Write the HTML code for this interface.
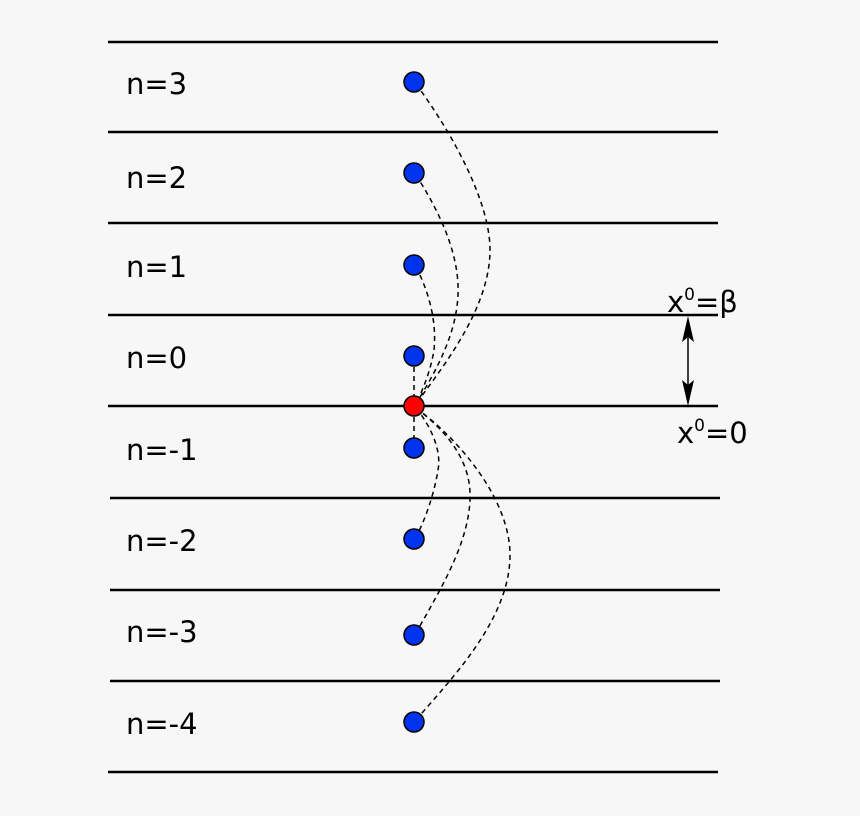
<!DOCTYPE html>
<html><head><style>body{margin:0;background:#f7f7f7}</style></head><body>
<svg width="860" height="816" viewBox="0 0 860 816" xmlns="http://www.w3.org/2000/svg" style="display:block;background:#f7f7f7">
<g stroke="#000" stroke-width="2.5">
<line x1="108" y1="42" x2="718" y2="42"/>
<line x1="108" y1="132" x2="718" y2="132"/>
<line x1="108" y1="223" x2="718" y2="223"/>
<line x1="108" y1="315" x2="718" y2="315"/>
<line x1="108" y1="406" x2="718" y2="406"/>
<line x1="110" y1="498" x2="720" y2="498"/>
<line x1="110" y1="590" x2="720" y2="590"/>
<line x1="110" y1="681" x2="720" y2="681"/>
<line x1="108" y1="772" x2="718" y2="772"/>
</g>
<g fill="none" stroke="#000" stroke-width="1.5" stroke-dasharray="5,4">
<path d="M416,84 C450,130 490,200 490,250 C490,310 440,370 416,404"/>
<path d="M416,175 C435,205 460,250 458,295 C456,340 430,380 416,404"/>
<path d="M416,267 C428,290 437,320 434,350 C430,375 420,395 416,404"/>
<path d="M414,358 L414,404"/>
<path d="M414,408 L414,446"/>
<path d="M416,408 C430,425 442,450 438,470 C434,495 425,520 416,537"/>
<path d="M416,408 C445,430 472,460 470,500 C468,545 440,590 416,633"/>
<path d="M416,408 C460,440 510,500 510,555 C510,620 450,680 416,720"/>
</g>
<g fill="#0033ee" stroke="#000" stroke-width="1.5">
<circle cx="414" cy="82" r="10"/>
<circle cx="414" cy="173" r="10"/>
<circle cx="414" cy="265" r="10"/>
<circle cx="414" cy="356" r="10"/>
<circle cx="414" cy="448" r="10"/>
<circle cx="414" cy="539" r="10"/>
<circle cx="414" cy="635" r="10"/>
<circle cx="414" cy="722" r="10"/>
</g>
<circle cx="414" cy="406" r="10" fill="#ff0000" stroke="#000" stroke-width="1.5"/>
<g font-family="'DejaVu Sans','Liberation Sans',sans-serif" font-size="29" fill="#000">
<text x="126" y="94">n=3</text>
<text x="126" y="188">n=2</text>
<text x="126" y="277">n=1</text>
<text x="126" y="368">n=0</text>
<text x="126" y="460">n=-1</text>
<text x="126" y="551">n=-2</text>
<text x="126" y="642">n=-3</text>
<text x="126" y="734">n=-4</text>
<text x="667" y="312">x<tspan font-size="17" dy="-12">0</tspan><tspan dy="12">=β</tspan></text>
<text x="677" y="443">x<tspan font-size="17" dy="-12">0</tspan><tspan dy="12">=0</tspan></text>
</g>
<line x1="688" y1="330" x2="688" y2="392" stroke="#000" stroke-width="1.5"/>
<path d="M688,316 L682,342 L688,337 L694,342 Z" fill="#000"/>
<path d="M688,406 L682,380 L688,385 L694,380 Z" fill="#000"/>
</svg>
</body></html>
